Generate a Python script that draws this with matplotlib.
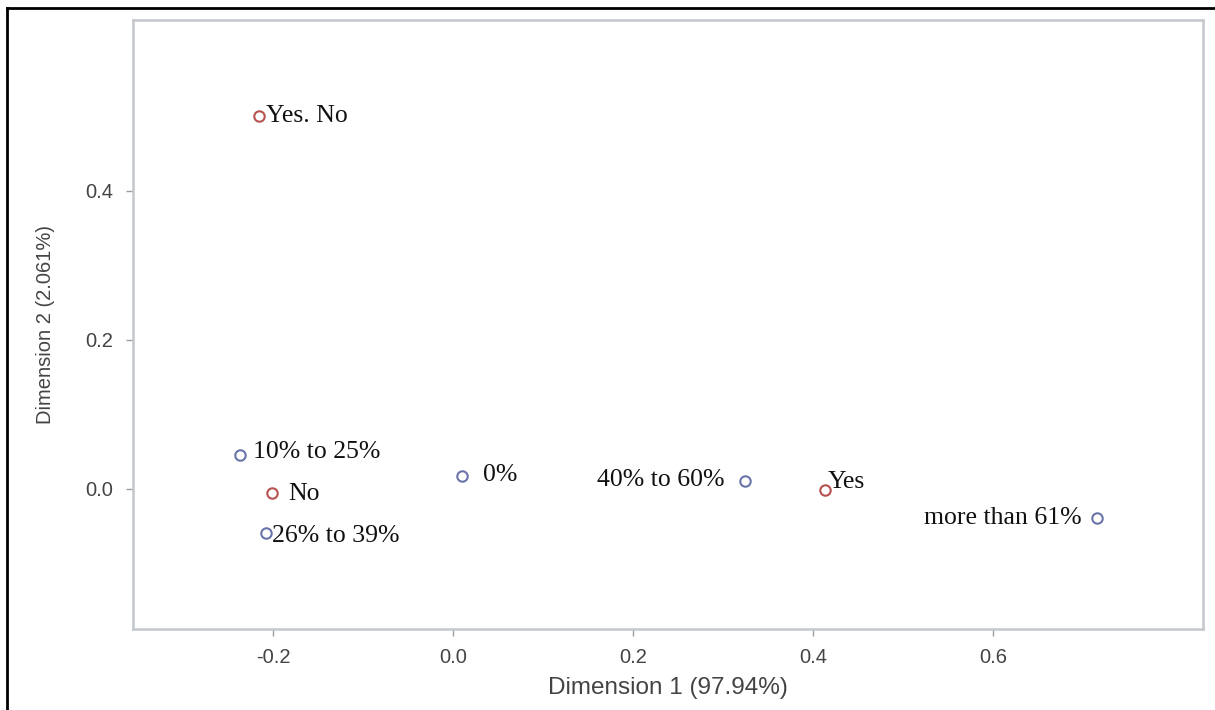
import matplotlib
matplotlib.use("Agg")
import matplotlib.pyplot as plt
from matplotlib.lines import Line2D

labels = ["Yes. No", "10% to 25%", "No", "26% to 39%", "0%", "40% to 60%", "Yes", "more than 61%"]
dim1 = [-0.2156, -0.2367, -0.2011, -0.2078, 0.010, 0.3244, 0.4133, 0.7156]
dim2 = [0.5007, 0.0456, -0.0054, -0.0590, 0.0174, 0.0107, -0.0013, -0.0390]
groups = ["r", "b", "r", "b", "b", "b", "r", "b"]
xticks = [-0.2, 0.0, 0.2, 0.4, 0.6]
yticks = [0.0, 0.2, 0.4]

colors = {"r": "#b5524f", "b": "#6a74aa"}
offsets = {
    "Yes. No": (5, 0, "left", "center"),
    "10% to 25%": (9, 2, "left", "center"),
    "No": (12, -1, "left", "center"),
    "26% to 39%": (4, -2, "left", "center"),
    "0%": (15, 1, "left", "center"),
    "40% to 60%": (-15, 1, "right", "center"),
    "Yes": (2, 6, "left", "center"),
    "more than 61%": (-11, 0, "right", "center"),
}

fig = plt.figure(figsize=(12.15, 7.10), dpi=100)
ax = fig.add_axes([133/1215, 1-629/710, (1203-133)/1215, (629-20)/710])

for lab, x, y, g in zip(labels, dim1, dim2, groups):
    ax.plot(x, y, marker="o", markersize=7.5, markerfacecolor="none",
            markeredgecolor=colors[g], markeredgewidth=1.5, linestyle="none")
    dx, dy, ha, va = offsets[lab]
    ax.annotate(lab, (x, y), xytext=(dx, dy), textcoords="offset points",
                ha=ha, va=va, fontsize=18.5, family="Liberation Serif", color="#111111")

ax.set_xlim(-0.3556, 0.8333)
ax.set_ylim(-0.188, 0.6295)
ax.set_xticks(xticks)
ax.set_xticklabels([f"{t:.1f}" for t in xticks])
ax.set_yticks(yticks)
ax.set_yticklabels([f"{t:.1f}" for t in yticks])
for s in ax.spines.values():
    s.set_color("#c4c8cc")
    s.set_linewidth(1.8)
ax.tick_params(colors="#9aa0a6", labelcolor="#444444", labelsize=14.5,
               length=5, width=1, direction="out", pad=9, labelfontfamily="Liberation Sans")
ax.set_xlabel("Dimension 1 (97.94%)", fontsize=17.5, color="#444444", family="Liberation Sans", labelpad=7)
ax.set_ylabel("Dimension 2 (2.061%)", fontsize=14.5, color="#444444", family="Liberation Sans", labelpad=22)

# outer border of the screenshot
fig.add_artist(Line2D([7/1215, 7/1215], [0, 1-8/710], transform=fig.transFigure, color="black", lw=2))
fig.add_artist(Line2D([7/1215, 1], [1-8/710, 1-8/710], transform=fig.transFigure, color="black", lw=2))

fig.savefig("out.png", dpi=100)
